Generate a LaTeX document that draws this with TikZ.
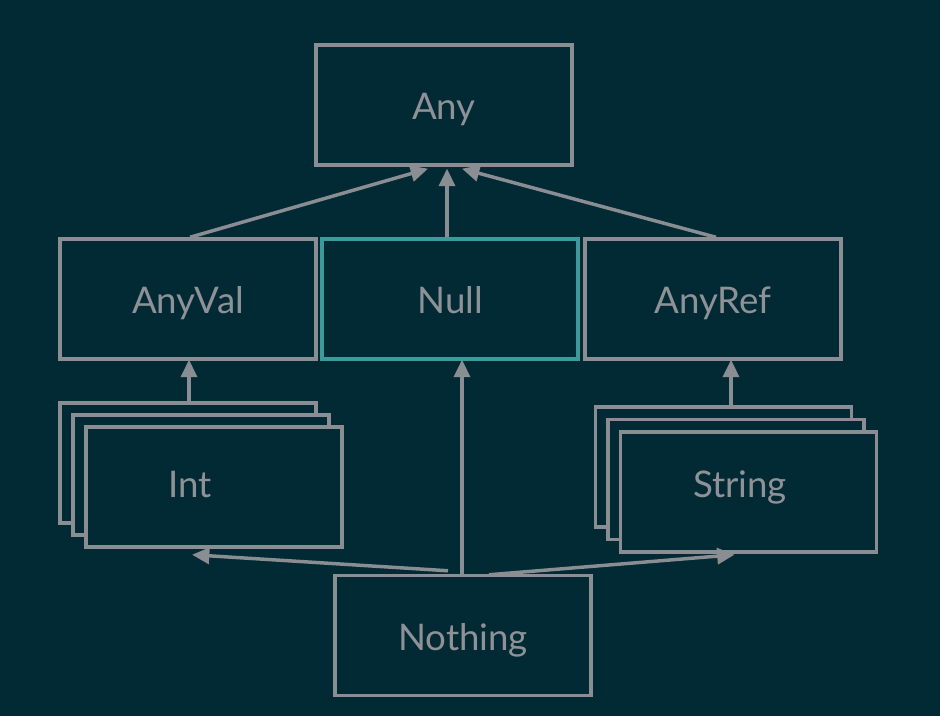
\documentclass[tikz,border=0pt]{standalone}
\usepackage{fontspec}
\setmainfont{Lato}
\usetikzlibrary{arrows.meta,calc}
\definecolor{bg}{HTML}{022A35}
\definecolor{linegray}{HTML}{8A8D91}
\definecolor{textgray}{HTML}{8E9296}
\definecolor{tealline}{HTML}{3D9A9B}
\tikzset{
  box/.style={draw=linegray, line width=2.6pt, minimum width=192pt, minimum height=90pt,
    inner sep=0pt, fill=bg, text=textgray, font=\fontsize{27.5}{30}\selectfont,
    text height=22.5pt, text depth=0pt},
  lbl/.style={text=textgray, font=\fontsize{27.5}{30}\selectfont, inner sep=0pt,
    text height=22.5pt, text depth=0pt},
  arr/.style={draw=linegray, line width=2.6pt, -{Triangle[length=13pt,width=12pt]}}
}
\begin{document}
\begin{tikzpicture}[x=0.75pt,y=-0.75pt]
\fill[bg] (0,0) rectangle (940,716);
\useasboundingbox (0,0) rectangle (940,716);
\node[box] (any) at (444,105) {Any};
\node[box] (anyval) at (188,299) {AnyVal};
\node[box, draw=tealline] (null) at (450,299) {Null};
\node[box] (anyref) at (713,299) {AnyRef};
\node[box] (int3) at (188,463) {};
\node[box] (int2) at (201,475) {};
\node[box] (int) at (214,487) {};
\node[lbl] (intlbl) at (190,483) {Int};
\node[box] (str3) at (723.5,467) {};
\node[box] (str2) at (736,479.5) {};
\node[box] (str) at (748.5,492) {};
\node[lbl] (strlbl) at (740,483) {String};
\node[box] (nothing) at (463,635.5) {Nothing};
% arrows
\draw[arr] ($(anyval.north)+(2,0)$) -- ($(any.south)+(-16,2)$);
\draw[arr] ($(null.north)+(-3,0)$) -- ($(any.south)+(3,2)$);
\draw[arr] ($(anyref.north)+(3,0)$) -- ($(any.south)+(18,2)$);
\draw[arr] ($(int3.north)+(1,0)$) -- ($(anyval.south)+(1,-1)$);
\draw[arr] ($(str3.north)+(7.5,0)$) -- ($(anyref.south)+(18,-1)$);
\draw[arr] ($(nothing.north)+(-1,0)$) -- ($(null.south)+(12,-1)$);
\draw[arr] ($(nothing.north)+(-15,-3)$) -- ($(int.south)+(-22,6)$);
\draw[arr] ($(nothing.north)+(26,1)$) -- ($(str.south)+(-14,1)$);
\end{tikzpicture}
\end{document}
